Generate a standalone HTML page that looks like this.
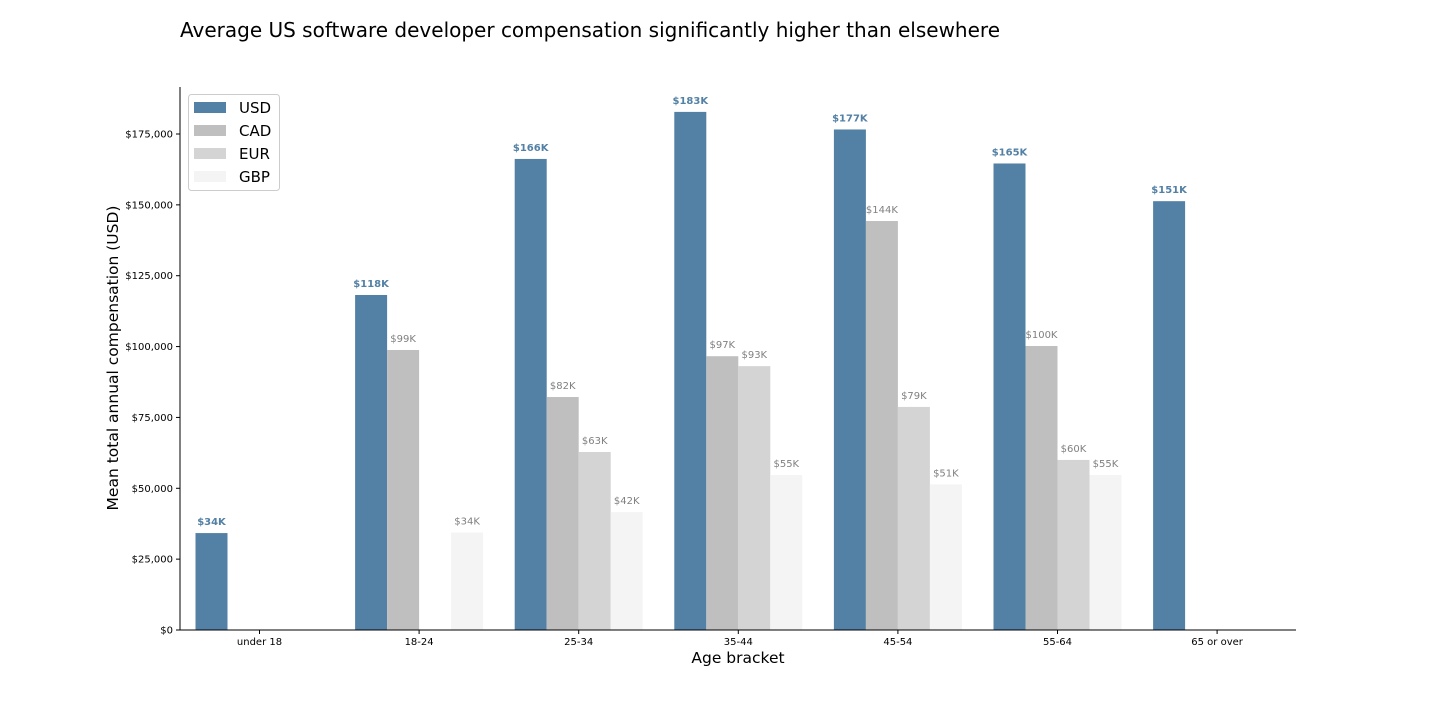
<!DOCTYPE html>
<html><head><meta charset="utf-8"><style>
body{margin:0;background:#fff;font-family:"DejaVu Sans","Liberation Sans",sans-serif}
svg text{font-family:"DejaVu Sans","Liberation Sans",sans-serif}
</style></head><body>
<svg id="chart" width="1440" height="720" xmlns="http://www.w3.org/2000/svg">
<rect width="1440" height="720" fill="#fff"/>
<text x="180" y="37" font-size="20" fill="#000">Average US software developer compensation significantly higher than elsewhere</text>
<g id="plot"></g>
<text transform="translate(118,358) rotate(-90)" text-anchor="middle" font-size="15.5">Mean total annual compensation (USD)</text>
<text x="738" y="663" text-anchor="middle" font-size="15.5">Age bracket</text>
</svg>
<script>
const categories=["under 18","18-24","25-34","35-44","45-54","55-64","65 or over"];
const seriesNames=["USD","CAD","EUR","GBP"];
const usd=[34200,118200,166200,182800,176600,164600,151300];
const cad=[null,98800,82200,96600,144300,100200,null];
const eur=[null,null,62800,93100,78700,60000,null];
const gbp=[null,34400,41600,54700,51400,54700,null];
const yTicks=[0,25000,50000,75000,100000,125000,150000,175000];
const series=[usd,cad,eur,gbp];
const colors=["#5381a5","#bfbfbf","#d4d4d4","#f4f4f4"];
const NS="http://www.w3.org/2000/svg";
const g=document.getElementById('plot');
const L=180,R=1296,B=630,T=87;
const yS=v=>B-v*(630-134)/175000;
const x0=i=>259.5+i*159.6;
const bw=32;
function el(t,a,txt){const e=document.createElementNS(NS,t);for(const k in a)e.setAttribute(k,a[k]);if(txt!=null)e.textContent=txt;g.appendChild(e);return e;}
yTicks.forEach(v=>{
 const y=yS(v);
 const tk=el('line',{x1:L-4,x2:L,y1:y,y2:y,stroke:'#000'});
 
 
 const t=el('text',{x:L-7,y:y+3.5,'text-anchor':'end','font-size':10},'$'+v.toLocaleString('en-US'));
 
 
});
categories.forEach((c,i)=>{
 const x=x0(i);
 const tk=el('line',{x1:x,x2:x,y1:B,y2:B+4,stroke:'#000'});
 
 
 const t=el('text',{x:x,y:B+15,'text-anchor':'middle','font-size':10},c);
 
 
 series.forEach((s,j)=>{
  const v=s[i]; if(v==null)return;
  const bx=x-64+j*bw, y=yS(v);
  const r=el('rect',{x:bx,y:y,width:bw,height:B-y,fill:colors[j]});
  
  
  const lt=el('text',{x:bx+bw/2,y:y-8,'text-anchor':'middle','font-size':10,fill:j==0?'#5381a5':'#808080','font-weight':j==0?'bold':'normal'},'$'+Math.round(v/1000)+'K');
  
  
 });
});
const ax=el('line',{x1:L,x2:L,y1:T,y2:B,stroke:'#000'});


const bx=el('line',{x1:L,x2:R,y1:B,y2:B,stroke:'#000'});


const lg=el('rect',{x:188.5,y:94.5,width:91,height:96,rx:3,fill:'#fff',stroke:'#ccc'});


seriesNames.forEach((n,j)=>{
 const y=107+j*23;
 const sw=el('rect',{x:194,y:y-5,width:32,height:11,fill:colors[j]});
 
 
 const t=el('text',{x:239,y:y+6,'font-size':15},n);
 
 
});
</script>
</body></html>
